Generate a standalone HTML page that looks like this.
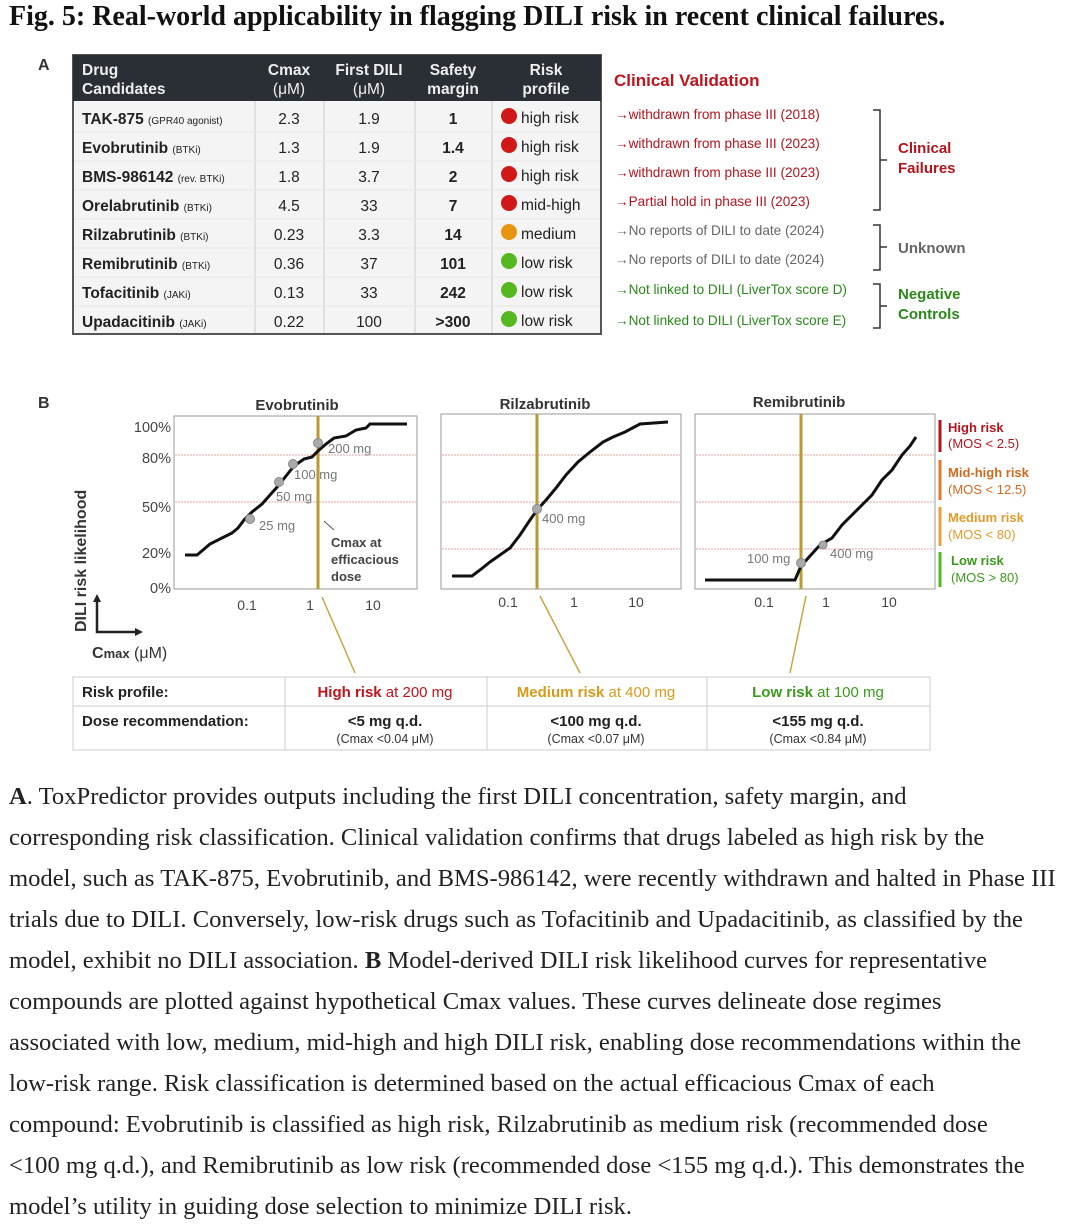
<!DOCTYPE html>
<html><head><meta charset="utf-8"><style>
body{margin:0;width:1080px;height:1224px;background:#fff;position:relative;overflow:hidden;font-family:"Liberation Sans",sans-serif}
.title{position:absolute;left:9px;top:1px;font:bold 28px "Liberation Serif",serif;color:#111;white-space:nowrap}
.cap{position:absolute;left:9px;top:776px;font:24.6px/41px "Liberation Serif",serif;color:#222;white-space:nowrap}
svg{position:absolute;left:0;top:0}
</style></head><body>
<div class="title">Fig. 5: Real-world applicability in flagging DILI risk in recent clinical failures.</div>
<svg width="1080" height="770" font-family="Liberation Sans, sans-serif">
<text x="38" y="70" font-size="16" font-weight="bold" fill="#333">A</text>
<rect x="73" y="55" width="528" height="279" fill="#f4f4f4" stroke="#555" stroke-width="2"/>
<rect x="73" y="55" width="528" height="46" fill="#2a2e35"/>
<g stroke="#ccc"><line x1="255" y1="101" x2="255" y2="333"/><line x1="324" y1="101" x2="324" y2="333"/><line x1="415" y1="101" x2="415" y2="333"/><line x1="492" y1="101" x2="492" y2="333"/></g>
<g stroke="#e6e6e6"><line x1="74" y1="132" x2="600" y2="132"/><line x1="74" y1="161" x2="600" y2="161"/><line x1="74" y1="190" x2="600" y2="190"/><line x1="74" y1="219" x2="600" y2="219"/><line x1="74" y1="248" x2="600" y2="248"/><line x1="74" y1="277" x2="600" y2="277"/><line x1="74" y1="306" x2="600" y2="306"/></g>
<g fill="#eee" font-size="15.5" font-weight="bold">
<text x="82" y="75">Drug</text><text x="82" y="94">Candidates</text>
<text x="289" y="75" text-anchor="middle">Cmax</text><text x="289" y="94" text-anchor="middle" font-weight="normal">(μM)</text>
<text x="369" y="75" text-anchor="middle">First DILI</text><text x="369" y="94" text-anchor="middle" font-weight="normal">(μM)</text>
<text x="453" y="75" text-anchor="middle">Safety</text><text x="453" y="94" text-anchor="middle">margin</text>
<text x="546" y="75" text-anchor="middle">Risk</text><text x="546" y="94" text-anchor="middle">profile</text>
</g>
<g font-size="15.5" fill="#222">
<g font-weight="bold">
<text x="82" y="124">TAK-875 <tspan font-size="10" font-weight="normal">(GPR40 agonist)</tspan></text>
<text x="82" y="153">Evobrutinib <tspan font-size="10" font-weight="normal">(BTKi)</tspan></text>
<text x="82" y="182">BMS-986142 <tspan font-size="10" font-weight="normal">(rev. BTKi)</tspan></text>
<text x="82" y="211">Orelabrutinib <tspan font-size="10" font-weight="normal">(BTKi)</tspan></text>
<text x="82" y="240">Rilzabrutinib <tspan font-size="10" font-weight="normal">(BTKi)</tspan></text>
<text x="82" y="269">Remibrutinib <tspan font-size="10" font-weight="normal">(BTKi)</tspan></text>
<text x="82" y="298">Tofacitinib <tspan font-size="10" font-weight="normal">(JAKi)</tspan></text>
<text x="82" y="327">Upadacitinib <tspan font-size="10" font-weight="normal">(JAKi)</tspan></text>
</g>
<g text-anchor="middle"><text x="289" y="124">2.3</text><text x="289" y="153">1.3</text><text x="289" y="182">1.8</text><text x="289" y="211">4.5</text><text x="289" y="240">0.23</text><text x="289" y="269">0.36</text><text x="289" y="298">0.13</text><text x="289" y="327">0.22</text>
<text x="369" y="124">1.9</text><text x="369" y="153">1.9</text><text x="369" y="182">3.7</text><text x="369" y="211">33</text><text x="369" y="240">3.3</text><text x="369" y="269">37</text><text x="369" y="298">33</text><text x="369" y="327">100</text>
<g font-weight="bold"><text x="453" y="124">1</text><text x="453" y="153">1.4</text><text x="453" y="182">2</text><text x="453" y="211">7</text><text x="453" y="240">14</text><text x="453" y="269">101</text><text x="453" y="298">242</text><text x="453" y="327">&gt;300</text></g></g>
<g><circle cx="509" cy="116" r="8" fill="#d01818"/><circle cx="509" cy="145" r="8" fill="#d01818"/><circle cx="509" cy="174" r="8" fill="#d01818"/><circle cx="509" cy="203" r="8" fill="#d01818"/><circle cx="509" cy="232" r="8" fill="#e8950e"/><circle cx="509" cy="261" r="8" fill="#55b820"/><circle cx="509" cy="290" r="8" fill="#55b820"/><circle cx="509" cy="319" r="8" fill="#55b820"/></g>
<text x="521" y="123">high risk</text><text x="521" y="152">high risk</text><text x="521" y="181">high risk</text><text x="521" y="210">mid-high</text><text x="521" y="239">medium</text><text x="521" y="268">low risk</text><text x="521" y="297">low risk</text><text x="521" y="326">low risk</text>
</g>
<text x="614" y="86" font-size="17" font-weight="bold" fill="#c0141c">Clinical Validation</text>
<g font-size="13.6">
<g fill="#b5141c"><text x="615" y="119">→withdrawn from phase III (2018)</text><text x="615" y="148">→withdrawn from phase III (2023)</text><text x="615" y="177">→withdrawn from phase III (2023)</text><text x="615" y="206">→Partial hold in phase III (2023)</text></g>
<g fill="#666"><text x="615" y="235">→No reports of DILI to date (2024)</text><text x="615" y="264">→No reports of DILI to date (2024)</text></g>
<g fill="#2a8a1a"><text x="615" y="294">→Not linked to DILI (LiverTox score D)</text><text x="615" y="325">→Not linked to DILI (LiverTox score E)</text></g>
</g>
<g stroke="#333" stroke-width="1.5" fill="none"><path d="M873 110 H880 V210 H873 M880 160 H887"/><path d="M873 225 H880 V270 H873 M880 247 H887"/><path d="M873 284 H880 V328 H873 M880 306 H887"/></g>
<g font-size="15" font-weight="bold"><text x="898" y="153" fill="#b5141c">Clinical</text><text x="898" y="173" fill="#b5141c">Failures</text><text x="898" y="253" fill="#666">Unknown</text><text x="898" y="299" fill="#2a8a1a">Negative</text><text x="898" y="319" fill="#2a8a1a">Controls</text></g>

<text x="38" y="408" font-size="16" font-weight="bold" fill="#333">B</text>
<g font-size="15" font-weight="bold" fill="#333" text-anchor="middle"><text x="297" y="410">Evobrutinib</text><text x="545" y="409">Rilzabrutinib</text><text x="799" y="407">Remibrutinib</text></g>
<g font-size="14.5" fill="#444" text-anchor="end"><text x="171" y="432">100%</text><text x="171" y="463">80%</text><text x="171" y="512">50%</text><text x="171" y="558">20%</text><text x="171" y="593">0%</text></g>
<text transform="translate(86,632) rotate(-90)" font-size="16" font-weight="bold" fill="#333">DILI risk likelihood</text>
<path d="M97 600 V632 H137" stroke="#222" stroke-width="2.5" fill="none"/><path d="M97 594 l-4 8 h8z M143 632 l-8 -4 v8z" fill="#222"/>
<text x="92" y="658" font-size="16" fill="#333"><tspan font-weight="bold">C<tspan font-size="13">max</tspan></tspan> (μM)</text>
<g fill="none" stroke="#999"><rect x="174" y="416" width="243" height="173"/><rect x="441" y="414" width="240" height="175"/><rect x="695" y="414" width="240" height="175"/></g>
<g stroke="#e9a0a0" stroke-width="1" stroke-dasharray="2,1"><line x1="175" y1="455" x2="416" y2="455"/><line x1="175" y1="502" x2="416" y2="502"/><line x1="442" y1="455" x2="680" y2="455"/><line x1="442" y1="502" x2="680" y2="502"/><line x1="442" y1="549" x2="680" y2="549"/><line x1="696" y1="455" x2="934" y2="455"/><line x1="696" y1="502" x2="934" y2="502"/><line x1="696" y1="549" x2="934" y2="549"/></g>
<g fill="none" stroke="#b89a2e" stroke-width="3"><line x1="318" y1="416" x2="318" y2="589"/><line x1="537" y1="414" x2="537" y2="589"/><line x1="801" y1="414" x2="801" y2="589"/></g>
<g fill="none" stroke="#c8a640" stroke-width="1.5"><line x1="322" y1="597" x2="355" y2="673"/><line x1="540" y1="596" x2="580" y2="673"/><line x1="806" y1="596" x2="790" y2="673"/></g>
<g fill="none" stroke="#111" stroke-width="3">
<path d="M185 555 L197 555 L203 550 L210 544 L222 538 L232 533 L238 528 L244 520 L252 512 L262 504 L270 495 L278 486 L286 476 L294 466 L304 459 L312 457 L318 451 L326 444 L334 438 L346 436 L356 430 L366 428 L370 424 L407 424"/>
<path d="M452 576 L472 576 L480 570 L490 562 L500 555 L510 548 L520 535 L530 520 L537 510 L546 500 L556 488 L566 475 L578 462 L590 452 L603 442 L613 437 L625 432 L640 424 L668 422"/>
<path d="M705 580 L795 580 L801 566 L810 556 L820 545 L832 538 L842 525 L852 515 L862 505 L872 495 L882 480 L892 470 L902 455 L910 446 L916 437"/>
</g>
<g fill="#aaa" stroke="#888"><circle cx="250" cy="519" r="4.5"/><circle cx="279" cy="482" r="4.5"/><circle cx="293" cy="464" r="4.5"/><circle cx="318" cy="443" r="4.5"/><circle cx="537" cy="509" r="4.5"/><circle cx="801" cy="563" r="4.5"/><circle cx="823" cy="545" r="4"/></g>
<g font-size="13" fill="#777"><text x="259" y="530">25 mg</text><text x="276" y="501">50 mg</text><text x="294" y="479">100 mg</text><text x="328" y="453">200 mg</text><text x="542" y="523">400 mg</text><text x="747" y="563">100 mg</text><text x="830" y="558">400 mg</text></g>
<line x1="324" y1="521" x2="334" y2="530" stroke="#555"/>
<g font-size="13" font-weight="bold" fill="#444"><text x="331" y="547">Cmax at</text><text x="331" y="564">efficacious</text><text x="331" y="581">dose</text></g>
<g font-size="14" fill="#444" text-anchor="middle"><text x="247" y="610">0.1</text><text x="310" y="610">1</text><text x="373" y="610">10</text><text x="508" y="607">0.1</text><text x="574" y="607">1</text><text x="636" y="607">10</text><text x="764" y="607">0.1</text><text x="826" y="607">1</text><text x="889" y="607">10</text></g>
<g stroke-width="3"><line x1="940" y1="420" x2="940" y2="452" stroke="#b5141c"/><line x1="940" y1="460" x2="940" y2="500" stroke="#e07a30"/><line x1="940" y1="507" x2="940" y2="546" stroke="#e3a33a"/><line x1="940" y1="552" x2="940" y2="587" stroke="#55b820"/></g>
<g font-size="13"><text x="948" y="432" fill="#b5141c" font-weight="bold">High risk</text><text x="948" y="448" fill="#b5141c">(MOS &lt; 2.5)</text>
<text x="948" y="477" fill="#d06a20" font-weight="bold">Mid-high risk</text><text x="948" y="494" fill="#d06a20">(MOS &lt; 12.5)</text>
<text x="948" y="522" fill="#e39a2a" font-weight="bold">Medium risk</text><text x="948" y="539" fill="#e39a2a">(MOS &lt; 80)</text>
<text x="951" y="565" fill="#3a9a1a" font-weight="bold">Low risk</text><text x="951" y="582" fill="#3a9a1a">(MOS &gt; 80)</text></g>
<rect x="73" y="677" width="857" height="73" fill="#fff" stroke="#ccc"/>
<g stroke="#ccc"><line x1="73" y1="706" x2="930" y2="706"/><line x1="285" y1="677" x2="285" y2="750"/><line x1="487" y1="677" x2="487" y2="750"/><line x1="707" y1="677" x2="707" y2="750"/></g>
<g font-size="15" font-weight="bold" fill="#222"><text x="82" y="697">Risk profile:</text><text x="82" y="726">Dose recommendation:</text></g>
<g font-size="15" text-anchor="middle"><text x="385" y="697" fill="#c0141c"><tspan font-weight="bold">High risk</tspan> at 200 mg</text><text x="596" y="697" fill="#d89a1a"><tspan font-weight="bold">Medium risk</tspan> at 400 mg</text><text x="818" y="697" fill="#3a9a1a"><tspan font-weight="bold">Low risk</tspan> at 100 mg</text>
<g font-weight="bold" fill="#222"><text x="385" y="726">&lt;5 mg q.d.</text><text x="596" y="726">&lt;100 mg q.d.</text><text x="818" y="726">&lt;155 mg q.d.</text></g>
<g font-size="12.5" fill="#333"><text x="385" y="743">(Cmax &lt;0.04 μM)</text><text x="596" y="743">(Cmax &lt;0.07 μM)</text><text x="818" y="743">(Cmax &lt;0.84 μM)</text></g></g>
</svg>
<div class="cap"><b>A</b>. ToxPredictor provides outputs including the first DILI concentration, safety margin, and<br>corresponding risk classification. Clinical validation confirms that drugs labeled as high risk by the<br>model, such as TAK-875, Evobrutinib, and BMS-986142, were recently withdrawn and halted in Phase III<br>trials due to DILI. Conversely, low-risk drugs such as Tofacitinib and Upadacitinib, as classified by the<br>model, exhibit no DILI association. <b>B</b> Model-derived DILI risk likelihood curves for representative<br>compounds are plotted against hypothetical Cmax values. These curves delineate dose regimes<br>associated with low, medium, mid-high and high DILI risk, enabling dose recommendations within the<br>low-risk range. Risk classification is determined based on the actual efficacious Cmax of each<br>compound: Evobrutinib is classified as high risk, Rilzabrutinib as medium risk (recommended dose<br>&lt;100 mg q.d.), and Remibrutinib as low risk (recommended dose &lt;155 mg q.d.). This demonstrates the<br>model’s utility in guiding dose selection to minimize DILI risk.</div>
</body></html>
